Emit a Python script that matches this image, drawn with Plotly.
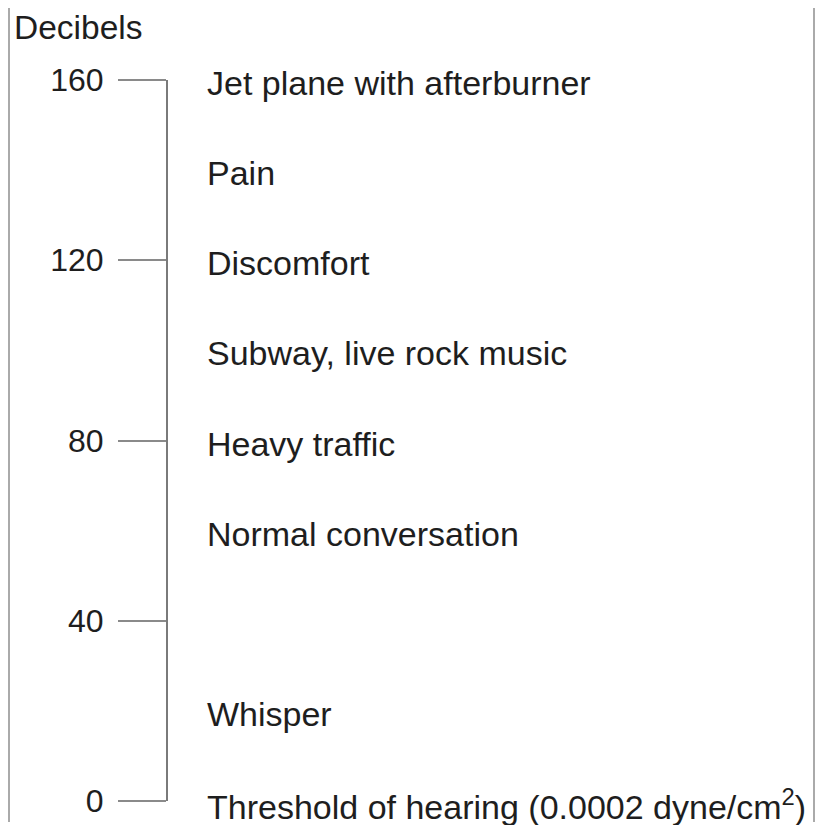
import plotly.graph_objects as go

# Data
tick_values = [0, 40, 80, 120, 160]
tick_labels = ["0", "40", "80", "120", "160"]
sound_db = [160, 140, 120, 100, 80, 60, 20, 0]
sound_labels = [
    "Jet plane with afterburner",
    "Pain",
    "Discomfort",
    "Subway, live rock music",
    "Heavy traffic",
    "Normal conversation",
    "Whisper",
    "Threshold of hearing (0.0002 dyne/cm<sup>2</sup>)",
]
axis_title = "Decibels"

# page body has an 8px margin; positions below are in figure coords
W, H = 823, 825
ml, mr, mt, mb = 160, 17, 72, 32
pw = W - ml - mr
ph = H - mt - mb
label_x = (197 - ml) / pw

FONT = "Liberation Sans, Arial, Helvetica, sans-serif"
TXT = "#1e1e1e"

fig = go.Figure()
fig.add_trace(go.Scatter(
    x=[label_x] * len(sound_db), y=sound_db, mode="markers",
    marker=dict(size=1, opacity=0), hoverinfo="skip", showlegend=False,
))
for v, t in zip(sound_db, sound_labels):
    fig.add_annotation(
        x=label_x, y=v, xref="x", yref="y", text=t, showarrow=False,
        xanchor="left", yanchor="middle", yshift=-3,
        font=dict(family=FONT, size=34, color=TXT),
    )

fig.update_layout(
    width=W, height=H,
    margin=dict(l=ml, r=mr, t=mt, b=mb),
    paper_bgcolor="white", plot_bgcolor="white",
    xaxis=dict(range=[0, 1], visible=False, fixedrange=True),
    yaxis=dict(
        range=[0, 160],
        tickvals=tick_values, ticktext=tick_labels,
        ticks="outside", ticklen=48, tickwidth=2, tickcolor="#8a8a8a",
        showline=True, linecolor="#7a7a7a", linewidth=2,
        showgrid=False, zeroline=False,
        tickfont=dict(family=FONT, size=32, color=TXT),
        ticklabelstandoff=8,
        fixedrange=True,
    ),
    showlegend=False,
)

# Frame lines
x_left = (1 - ml) / pw
y_top = (H - mb + 10) / ph
y_bot = (H - mb - 814) / ph
for xx in (x_left, 1.0):
    fig.add_shape(type="line", xref="paper", yref="paper",
                  x0=xx, x1=xx, y0=y_bot, y1=y_top,
                  line=dict(color="#aaaaaa", width=2))

fig.add_annotation(
    x=(4 - ml) / pw, y=(H - mb - 19) / ph, xref="paper", yref="paper",
    text=axis_title, showarrow=False, xanchor="left", yanchor="middle",
    font=dict(family=FONT, size=33.5, color=TXT),
)

fig.write_html("out.html")
